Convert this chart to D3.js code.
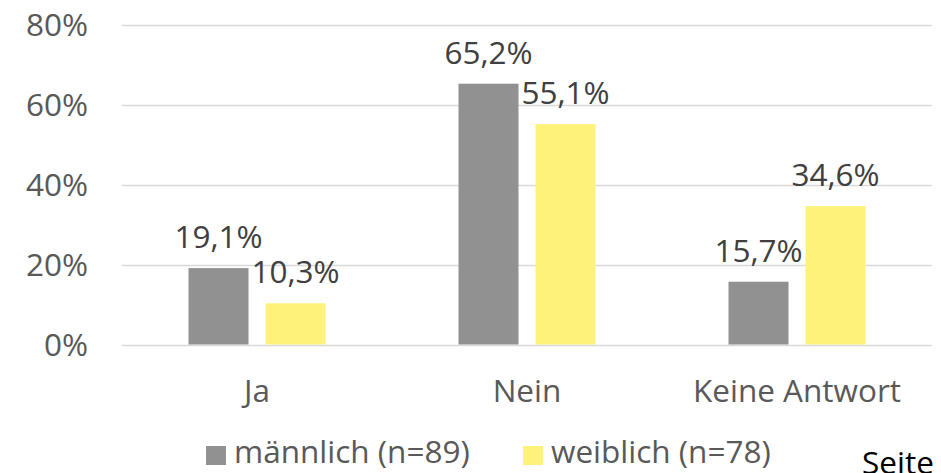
<!DOCTYPE html>
<html><head><meta charset="utf-8">
<script src="https://cdn.jsdelivr.net/npm/d3@7/dist/d3.min.js"></script>
<style>
html,body{margin:0;padding:0;background:#fff;overflow:hidden;}
text{font-family:"Open Sans","Noto Sans",sans-serif;}
</style></head><body>
<script>
const categories = ["Ja", "Nein", "Keine Antwort"];
const seriesNames = ["männlich (n=89)", "weiblich (n=78)"];
const maleValues = [19.1, 65.2, 15.7];
const femaleValues = [10.3, 55.1, 34.6];
const yTicks = [0, 20, 40, 60, 80];
const colors = ["#919191", "#fff27a"];

const W = 941, H = 473;
const FS = "31.5px";
const svg = d3.select("body").append("svg").attr("width", W).attr("height", H);

const x0 = d3.scaleBand().domain(categories).range([122, 932]).padding(0);
const y = d3.scaleLinear().domain([0, 80]).range([344.5, 24.5]);
const groupW = x0.bandwidth() * 137 / 270;
const x1 = d3.scaleBand().domain(seriesNames).range([0, groupW]).paddingInner(0.221).paddingOuter(0);

// gridlines
svg.append("g").selectAll("line").data(yTicks).join("line")
  .attr("x1", 122).attr("x2", 932)
  .attr("y1", d => Math.round(y(d)) + 0.5).attr("y2", d => Math.round(y(d)) + 0.5)
  .attr("stroke", "#d9d9d9").attr("stroke-width", 1.5);

// y axis labels
const yAxis = d3.axisLeft(y).tickValues(yTicks).tickFormat(d => d + "%").tickSize(0).tickPadding(0);
const ya = svg.append("g").attr("transform", "translate(88,0)").call(yAxis);
ya.select(".domain").remove();
ya.selectAll("text").attr("fill", "#595959").style("font-size", FS)
  .style("font-family", "'Open Sans','Noto Sans',sans-serif").attr("dy", "0.36em");

// x axis labels
const xAxis = d3.axisBottom(x0).tickSize(0).tickPadding(0);
const xa = svg.append("g").attr("transform", "translate(0,380)").call(xAxis);
xa.select(".domain").remove();
xa.selectAll("text").attr("fill", "#595959").style("font-size", FS)
  .style("font-family", "'Open Sans','Noto Sans',sans-serif").attr("dy", "0.71em").attr("y", 0);

const rows = categories.map((c, i) => ({cat: c, vals: [maleValues[i], femaleValues[i]]}));

const groups = svg.append("g").selectAll("g").data(rows).join("g")
  .attr("transform", d => `translate(${x0(d.cat) + (x0.bandwidth() - groupW) / 2},0)`);

groups.selectAll("rect").data(d => d.vals.map((v, j) => ({s: seriesNames[j], v, j}))).join("rect")
  .attr("x", d => x1(d.s)).attr("width", x1.bandwidth())
  .attr("y", d => y(d.v)).attr("height", d => y(0) - y(d.v))
  .attr("fill", d => colors[d.j]);

groups.selectAll("text.lbl").data(d => d.vals.map((v, j) => ({s: seriesNames[j], v, j}))).join("text")
  .attr("class", "lbl")
  .attr("x", d => x1(d.s) + x1.bandwidth() / 2)
  .attr("y", d => y(d.v) - 20)
  .attr("text-anchor", "middle").attr("fill", "#404040").style("font-size", FS)
  .text(d => d.v.toFixed(1).replace(".", ",") + "%");

// legend
const leg = svg.append("g");
const legX = [206, 523];
seriesNames.forEach((s, i) => {
  leg.append("rect").attr("x", legX[i]).attr("y", 446).attr("width", 20).attr("height", 19).attr("fill", colors[i]);
  leg.append("text").attr("x", legX[i] + 28).attr("y", 463).attr("fill", "#595959").style("font-size", FS).text(s);
});

svg.append("text").attr("x", 862).attr("y", 474).attr("fill", "#000").style("font-size", FS).text("Seite");
</script>
</body></html>
